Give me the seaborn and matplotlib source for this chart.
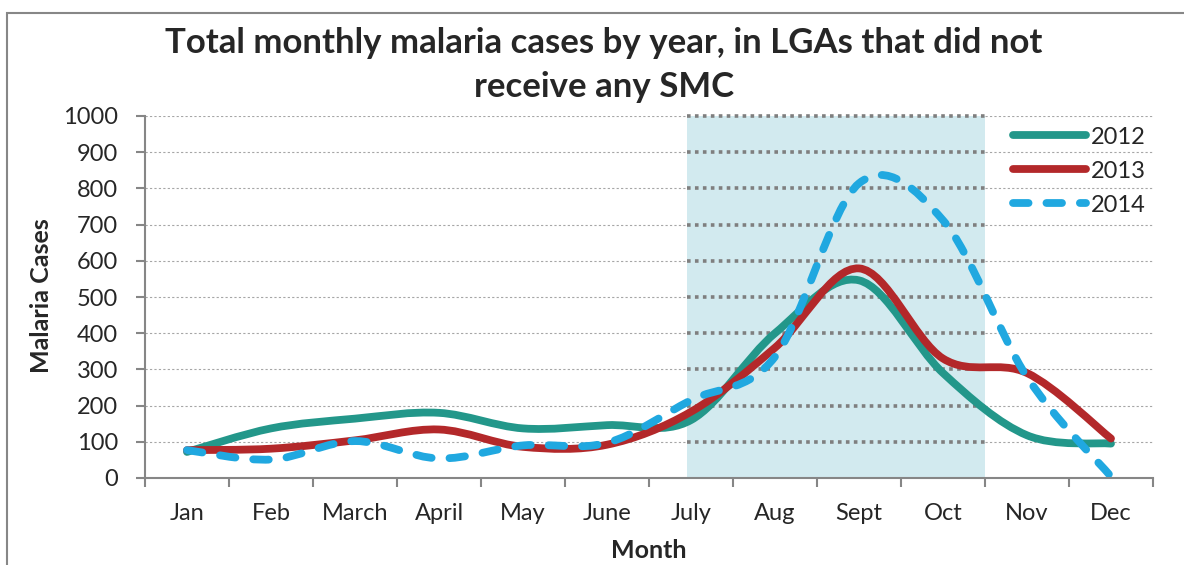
import numpy as np
import matplotlib
matplotlib.use("Agg")
import matplotlib.pyplot as plt
from matplotlib.path import Path
from matplotlib.patches import PathPatch, Rectangle
from matplotlib.lines import Line2D
import seaborn as sns

sns.set_style("white")
plt.rcParams["font.family"] = ["Lato", "DejaVu Sans"]

# data
months = ["Jan", "Feb", "March", "April", "May", "June",
          "July", "Aug", "Sept", "Oct", "Nov", "Dec"]
cases_2012 = [72, 137, 164, 180, 137, 146, 160, 400, 546, 290, 118, 95]
cases_2013 = [77, 81, 104, 134, 86, 92, 183, 360, 579, 330, 290, 109]
cases_2014 = [77, 51, 102, 54, 90, 97, 215, 335, 814, 712, 279, 4]
years = ["2012", "2013", "2014"]
colors = ["#23978a", "#b3282a", "#20a8e0"]
smc_span = (5.95, 9.5)   # shaded block, in category units


def smooth_path(xs, ys):
    # Excel style smoothed line: cubic bezier through every point
    p = np.column_stack([xs, ys]).astype(float)
    n = len(p)
    verts = [p[0]]
    codes = [Path.MOVETO]
    for i in range(n - 1):
        p0 = p[max(i - 1, 0)]
        p1, p2 = p[i], p[i + 1]
        p3 = p[min(i + 2, n - 1)]
        verts += [p1 + (p2 - p0) / 6, p2 - (p3 - p1) / 6, p2]
        codes += [Path.CURVE4] * 3
    return Path(verts, codes)


fig = plt.figure(figsize=(11.84, 5.65), dpi=100)
ax = fig.add_axes([145 / 1184, 1 - 478 / 565, 1008 / 1184, 362 / 565])

x = np.arange(len(months))
ax.set_xlim(-0.5, 11.5)
ax.set_ylim(0, 1000)

# plain grid
for yv in range(100, 1001, 100):
    ax.axhline(yv, color="#a6a6a6", lw=0.8, ls=(0, (2, 2)), zorder=0)

# SMC season block with its own heavier grid
ax.axvspan(*smc_span, color="#d2eaef", lw=0, zorder=1)
ax.hlines(range(100, 1001, 100), smc_span[0], smc_span[1], color="#7f7f7f",
          lw=2.6, linestyles=(0, (1, 1.2)), zorder=2, clip_on=False)

styles = ["-", "-", (0, (2.0, 2.3))]
handles = []
for vals, lab, col, ls in zip([cases_2012, cases_2013, cases_2014], years, colors, styles):
    patch = PathPatch(smooth_path(x, vals), fill=False, edgecolor=col, lw=5.6,
                      linestyle=ls, capstyle="round", joinstyle="round",
                      zorder=3, clip_on=False)
    ax.add_patch(patch)
    handles.append(Line2D([], [], color=col, lw=5.6, ls=ls, solid_capstyle="round",
                          dash_capstyle="round"))

leg = ax.legend(handles, years, loc="upper left", bbox_to_anchor=(0.847, 1.01),
                frameon=False, fontsize=17, handlelength=3.1, handletextpad=0.2,
                labelspacing=0.55, borderaxespad=0.2)
leg.set_zorder(5)

ax.set_xticks(np.arange(-0.5, 12, 1))
ax.set_xticklabels([])
ax.set_xticks(x, minor=True)
ax.set_xticklabels(months, minor=True, fontsize=17)
ax.tick_params(axis="x", which="major", length=6.5, width=1.5, color="#868686", direction="out")
ax.tick_params(axis="x", which="minor", length=0, pad=18)
ax.set_yticks(range(0, 1001, 100))
ax.tick_params(axis="y", length=6.5, width=1.5, color="#868686", direction="out",
               labelsize=17, pad=13)
ax.tick_params(left=True, bottom=True)

for side in ["top", "right"]:
    ax.spines[side].set_visible(False)
for side in ["left", "bottom"]:
    ax.spines[side].set_color("#868686")
    ax.spines[side].set_linewidth(1.5)
    ax.spines[side].set_zorder(4)

fig.text(42 / 1184, 1 - 296 / 565, "Malaria Cases", rotation=90, ha="center",
         va="center", fontsize=18, fontweight="bold")
fig.text(649 / 1184, 1 - 551 / 565, "Month", ha="center", va="center",
         fontsize=18, fontweight="bold")
fig.text(604 / 1184, 1 - 53 / 565, "Total monthly malaria cases by year, in LGAs that did not",
         ha="center", va="baseline", fontsize=25, fontweight="bold")
fig.text(604 / 1184, 1 - 97 / 565, "receive any SMC", ha="center", va="baseline",
         fontsize=25, fontweight="bold")

# chart border, runs off the right and bottom edge like the source
fig.patches.append(Rectangle((7 / 1184, -0.1), 1.2, 1 - 13 / 565 + 0.1,
                             transform=fig.transFigure, fill=False,
                             edgecolor="#878787", lw=1.5))

fig.savefig("out.png", dpi=100)
